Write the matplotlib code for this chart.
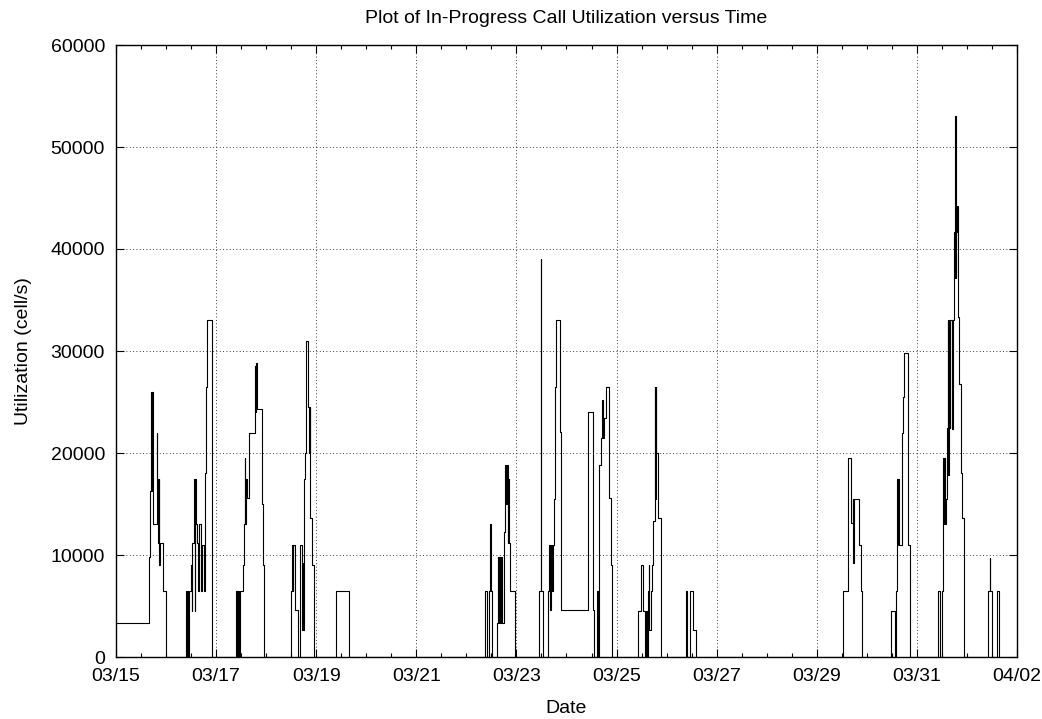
import pandas as pd
import matplotlib
matplotlib.use('Agg')
import matplotlib.pyplot as plt
import matplotlib.dates as mdates
import matplotlib.ticker as mticker

plt.rcParams['font.family'] = ['Liberation Sans', 'DejaVu Sans']

# hours since 03/15 00:00 and utilization (cell/s), step-wise
hours = [0, 16, 16.5, 17, 17.2, 17.4, 17.6, 19.5, 19.8, 20.1, 20.4, 20.7, 21.0, 22.5, 24.0,
         33.6, 34.0, 34.3, 34.6, 35.0, 36.0, 36.3, 36.6, 37.0, 37.4, 37.7, 38.0, 38.4, 39.0, 39.3,
         40.0, 40.6, 41.3, 42.2, 42.7, 43.1, 43.6, 46.0,
         57.5, 57.8, 58.1, 58.4, 58.8, 59.2, 59.6, 60.9, 61.4, 61.7, 62.0, 62.3, 62.7, 64.0,
         66.6, 66.9, 67.2, 67.6, 70.0, 70.5, 71.0,
         83.9, 84.4, 84.8, 85.1, 85.6, 87.2, 88.2, 89.2, 89.5, 89.8, 90.1, 90.6, 91.1, 92.0,
         92.4, 92.8, 93.2, 94.2, 94.7,
         105.5, 111.7,
         177.1, 177.8, 179.0, 179.5, 180.0, 180.5, 182.6, 183.2, 183.5, 183.8, 184.1, 184.4,
         185.0, 185.8, 186.7, 187.0, 187.3, 187.8, 188.1, 188.6, 188.9, 191.1,
         202.8, 203.6, 203.8, 204.7, 207.1, 207.6, 208.0, 208.5, 209.0, 209.5, 210.0, 210.5,
         210.9, 212.9, 213.6, 226.4, 228.5, 229.1, 230.8, 231.3, 231.5, 231.8, 232.4, 233.2,
         233.5, 233.9, 234.7, 236.3, 237.1, 237.9,
         250.2, 251.9, 252.8, 253.6, 254.0, 254.5, 255.1, 255.4, 255.7, 256.5, 257.0, 257.6,
         258.2, 258.5, 258.7, 258.9, 260.0, 261.1, 261.4,
         273.1, 273.6, 275.3, 276.8, 278.0,
         348.7, 351.1, 352.2, 353.3, 353.5, 353.8, 356.3, 357.1, 357.6,
         371.4, 373.4, 374.2, 374.5, 374.8, 375.1, 375.4, 376.7, 377.3, 378.0, 379.8, 380.6,
         394.0, 395.3, 396.2, 396.5, 396.8, 397.1, 397.4, 397.9, 398.4, 398.8, 399.1, 399.4,
         399.7, 400.0, 400.8, 401.2, 401.7, 402.0, 402.2, 402.4, 402.6, 402.8, 403.0, 403.6,
         404.4, 405.1, 405.6, 406.8,
         418.3, 419.0, 419.2, 420.2, 422.6, 423.3]
util = [3300, 9800, 16300, 26000, 16300, 26000, 13000, 22000, 17500, 11200, 17500, 9000, 11200, 6500, 0,
        6500, 0, 6500, 0, 6500, 9000, 4500, 11200, 11200, 17500, 4500, 17500, 13000, 11200, 6500,
        13000, 6500, 11000, 6500, 18000, 26500, 33000, 0,
        6500, 0, 6500, 0, 6500, 0, 6500, 9000, 13000, 19500, 13000, 17500, 15600, 22000,
        28500, 24000, 28800, 24300, 15000, 9000, 0,
        6500, 11000, 6500, 11000, 4600, 0, 11000, 2600, 9200, 2600, 17500, 20000, 31000, 24500,
        20000, 24500, 13600, 9000, 0,
        6500, 0,
        6500, 0, 6500, 13000, 6500, 0, 3300, 9800, 3300, 9800, 3300, 9800,
        3300, 12300, 18800, 15000, 18800, 11200, 17500, 11200, 6500, 0,
        6500, 39000, 6500, 0, 6500, 11000, 4600, 11000, 6500, 11000, 15500, 26500,
        33000, 22100, 4600, 24000, 4600, 0, 6500, 0, 9200, 18800, 21500, 25200,
        21500, 23400, 26500, 15600, 9000, 0,
        4500, 9000, 4500, 0, 4500, 0, 6500, 9000, 2600, 6500, 9000, 13300,
        26500, 15500, 26500, 20000, 13600, 6500, 0,
        6500, 0, 6500, 2600, 0,
        6500, 19500, 13100, 15500, 9200, 15500, 11000, 6500, 0,
        4500, 0, 6500, 17500, 11000, 17500, 11000, 22000, 25500, 29800, 11000, 0,
        6500, 0, 6500, 19500, 13000, 19500, 13000, 15500, 22500, 33000, 17800, 33000,
        22500, 33000, 22400, 33000, 35400, 41700, 37200, 53000, 37200, 41700, 44200, 33300,
        26800, 18000, 13600, 0,
        6500, 9700, 6500, 0, 6500, 0]

start = pd.Timestamp('2004-03-15')
end = pd.Timestamp('2004-04-02')
times = start + pd.to_timedelta(hours, unit='h')
date_ticks = pd.date_range(start, end, freq='2D')

fig = plt.figure(figsize=(10.42, 7.19), dpi=100)
ax = fig.add_axes([116/1042, 62/719, 901/1042, 612/719])

ax.step(times, util, where='post', color='black', lw=0.8)

ax.set_xlim(start, end)
ax.set_ylim(0, 60000)
ax.xaxis.set_major_locator(mticker.FixedLocator(mdates.date2num(date_ticks)))
ax.xaxis.set_major_formatter(mdates.DateFormatter('%m/%d'))
ax.xaxis.set_minor_locator(mdates.HourLocator(byhour=[0, 12]))
ax.yaxis.set_major_locator(mticker.MultipleLocator(10000))

ax.grid(True, which='major', color='black', linestyle=(0, (1, 3)), linewidth=0.6)
ax.tick_params(which='both', direction='in', top=True, right=True, labelsize=14, color='black')
ax.tick_params(which='major', length=6, width=0.8)
ax.tick_params(which='minor', length=3, width=0.8)
ax.tick_params(axis='y', pad=8)
ax.tick_params(axis='x', pad=8)
for s in ax.spines.values():
    s.set_linewidth(1)
    s.set_color('black')

ax.set_xlabel('Date', fontsize=14, labelpad=11)
ax.set_ylabel('Utilization (cell/s)', fontsize=14, labelpad=13)
ax.set_title('Plot of In-Progress Call Utilization versus Time', fontsize=14, pad=16)

fig.savefig('out.png', dpi=100)
